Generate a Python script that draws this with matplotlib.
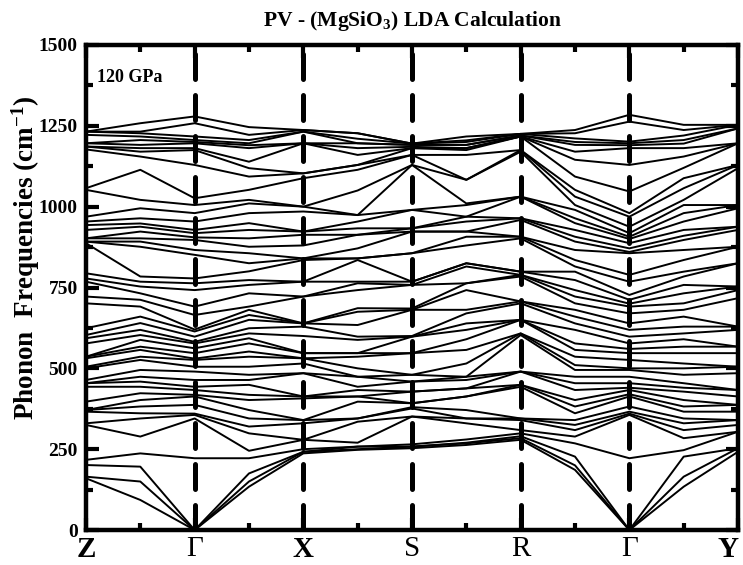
import numpy as np
import matplotlib.pyplot as plt

plt.rcParams['font.family'] = ['Liberation Serif', 'DejaVu Serif']
plt.rcParams['mathtext.fontset'] = 'custom'
plt.rcParams['mathtext.rm'] = 'Liberation Serif:bold'
plt.rcParams['mathtext.bf'] = 'Liberation Serif:bold'
plt.rcParams['mathtext.default'] = 'bf'

# Posiciones a lo largo del camino (puntos de alta simetria y puntos medios)
kpos = [0, 0.5, 1, 1.5, 2, 2.5, 3, 3.5, 4, 4.5, 5, 5.5, 6]
puntos = ["Z", "Γ", "X", "S", "R", "Γ", "Y"]
negrita = [True, False, True, False, False, False, True]

f_Z = [160, 165, 201, 217, 325, 330, 366, 371, 371, 397, 443, 454, 454, 464, 500, 505,
       531, 536, 536, 577, 593, 603, 624, 701, 722, 768, 778, 794, 887, 892, 892, 902,
       902, 928, 943, 954, 969, 1052, 1057, 1177, 1186, 1186, 1196, 1196, 1222, 1232, 1232, 1232]
f_ZG = [93, 150, 196, 237, 289, 345, 361, 382, 402, 423, 443, 459, 474, 495, 526, 536,
        557, 567, 588, 603, 619, 640, 660, 691, 712, 732, 753, 768, 784, 876, 892, 902,
        923, 938, 948, 964, 995, 1021, 1114, 1155, 1170, 1181, 1191, 1206, 1217, 1227, 1232, 1258]
f_G = [0, 0, 0, 222, 345, 356, 360, 387, 413, 418, 433, 443, 464, 490, 505, 526,
       530, 547, 562, 577, 582, 598, 614, 620, 665, 691, 742, 763, 778, 851, 866, 897,
       905, 918, 928, 954, 980, 1005, 1026, 1129, 1175, 1181, 1196, 1200, 1206, 1217, 1258, 1279]
f_GX = [134, 150, 175, 222, 245, 299, 320, 345, 371, 402, 418, 449, 464, 480, 505, 536,
        552, 577, 593, 608, 624, 650, 665, 681, 691, 732, 758, 773, 800, 825, 856, 876,
        902, 928, 949, 980, 1010, 1021, 1052, 1093, 1119, 1139, 1181, 1190, 1196, 1206, 1222, 1246]
f_X = [237, 242, 242, 250, 279, 279, 330, 340, 340, 407, 413, 413, 485, 485, 515, 531,
       531, 547, 547, 600, 629, 639, 639, 639, 722, 722, 768, 768, 835, 840, 840, 880,
       913, 923, 923, 985, 1000, 1000, 1088, 1103, 1103, 1196, 1196, 1196, 1232, 1232, 1237, 1237]
f_XS = [248, 250, 258, 258, 270, 335, 345, 345, 397, 413, 413, 433, 443, 474, 474, 500,
        536, 547, 547, 588, 598, 634, 675, 686, 742, 763, 768, 835, 840, 840, 871, 913,
        913, 933, 954, 974, 974, 1050, 1114, 1129, 1129, 1160, 1181, 1196, 1196, 1210, 1227, 1227]
f_S = [253, 258, 258, 265, 351, 351, 376, 380, 392, 392, 428, 428, 459, 459, 480, 480,
       547, 547, 598, 598, 600, 681, 681, 685, 758, 758, 768, 768, 856, 856, 923, 923,
       933, 933, 990, 990, 1129, 1129, 1160, 1160, 1181, 1181, 1185, 1191, 1191, 1195, 1195, 1195]
f_SR = [263, 268, 270, 280, 330, 345, 345, 371, 413, 413, 438, 438, 464, 474, 474, 515,
        557, 590, 619, 639, 670, 681, 742, 763, 763, 815, 825, 825, 880, 907, 923, 923,
        954, 969, 969, 1005, 1010, 1083, 1083, 1160, 1175, 1181, 1181, 1191, 1191, 1200, 1205, 1217]
f_R = [279, 284, 290, 299, 309, 340, 345, 345, 443, 449, 449, 490, 490, 490, 603, 608,
       608, 650, 650, 650, 701, 707, 707, 784, 789, 789, 799, 799, 902, 907, 907, 959,
       964, 964, 1031, 1031, 1031, 1170, 1175, 1175, 1217, 1217, 1217, 1220, 1220, 1225, 1225, 1225]
f_RG = [186, 200, 227, 268, 289, 309, 325, 340, 361, 382, 402, 433, 454, 474, 495, 510,
        536, 557, 577, 619, 639, 660, 681, 701, 722, 742, 773, 799, 815, 835, 866, 892,
        907, 928, 949, 964, 990, 1005, 1031, 1052, 1093, 1145, 1170, 1191, 1200, 1211, 1227, 1237]
f_G2 = [0, 0, 0, 222, 356, 360, 366, 382, 413, 420, 433, 440, 454, 474, 495, 500,
        526, 547, 560, 577, 598, 619, 639, 670, 691, 700, 712, 727, 768, 789, 856, 860,
        871, 887, 900, 907, 918, 938, 969, 980, 1047, 1129, 1181, 1190, 1196, 1201, 1263, 1284]
f_GY = [134, 165, 227, 247, 284, 309, 330, 345, 366, 382, 402, 428, 440, 454, 480, 500,
        515, 547, 567, 590, 608, 629, 660, 681, 701, 732, 758, 784, 799, 835, 866, 897,
        910, 928, 954, 980, 1005, 1021, 1057, 1088, 1120, 1155, 1181, 1195, 1206, 1220, 1237, 1253]
f_Y = [242, 253, 253, 304, 304, 325, 340, 340, 366, 387, 387, 413, 433, 433, 485, 505,
       505, 547, 567, 567, 619, 629, 629, 717, 742, 753, 753, 825, 825, 876, 876, 928,
       938, 938, 995, 1005, 1005, 1119, 1129, 1129, 1196, 1196, 1196, 1242, 1242, 1253, 1253, 1253]

columnas = [f_Z, f_ZG, f_G, f_GX, f_X, f_XS, f_S, f_SR, f_R, f_RG, f_G2, f_GY, f_Y]
bandas = np.array(columnas).T

fig = plt.figure(figsize=(7.43, 5.65), dpi=100)
ax = fig.add_axes([0.1157, 0.0619, 0.8776, 0.8585])

for banda in bandas:
    ax.plot(kpos, banda, color="black", lw=1.4, solid_joinstyle="round")

# Lineas discontinuas en los puntos de alta simetria interiores
for k in range(1, 6):
    ax.axvline(k, color="black", lw=3.6, dashes=(5, 3.2), dash_capstyle="round")

ax.set_xlim(0, 6)
ax.set_ylim(0, 1500)
ax.set_xticks(range(7))
ax.set_xticks(np.arange(0.5, 6, 1), minor=True)
ax.set_xticklabels(puntos)
for lab, b in zip(ax.get_xticklabels(), negrita):
    lab.set_fontsize(21)
    lab.set_fontweight("bold" if b else "normal")
ax.get_xticklabels()[-1].set_horizontalalignment("right")
ax.set_yticks(np.arange(0, 1501, 250))
ax.set_yticks(np.arange(125, 1500, 250), minor=True)
for lab in ax.get_yticklabels():
    lab.set_fontsize(14)
    lab.set_fontweight("bold")

ax.tick_params(which="major", direction="in", length=9, width=3, top=True, right=True)
ax.tick_params(which="minor", direction="in", length=5, width=3, top=True, right=True)
ax.tick_params(axis="x", which="major", pad=4)
ax.tick_params(axis="y", which="major", pad=6)
for s in ax.spines.values():
    s.set_linewidth(3.2)

ax.set_ylabel(r"Phonon  Frequencies (cm$^{-1}$)", fontsize=19.5, fontweight="bold")
ax.yaxis.set_label_coords(-0.068, 0.56)
ax.set_title(r"PV - (MgSiO$_3$) LDA Calculation", fontsize=15.5, fontweight="bold", pad=14)
ax.text(0.1, 1400, "120 GPa", fontsize=13, fontweight="bold", va="center")

fig.savefig("out.png", dpi=100)
